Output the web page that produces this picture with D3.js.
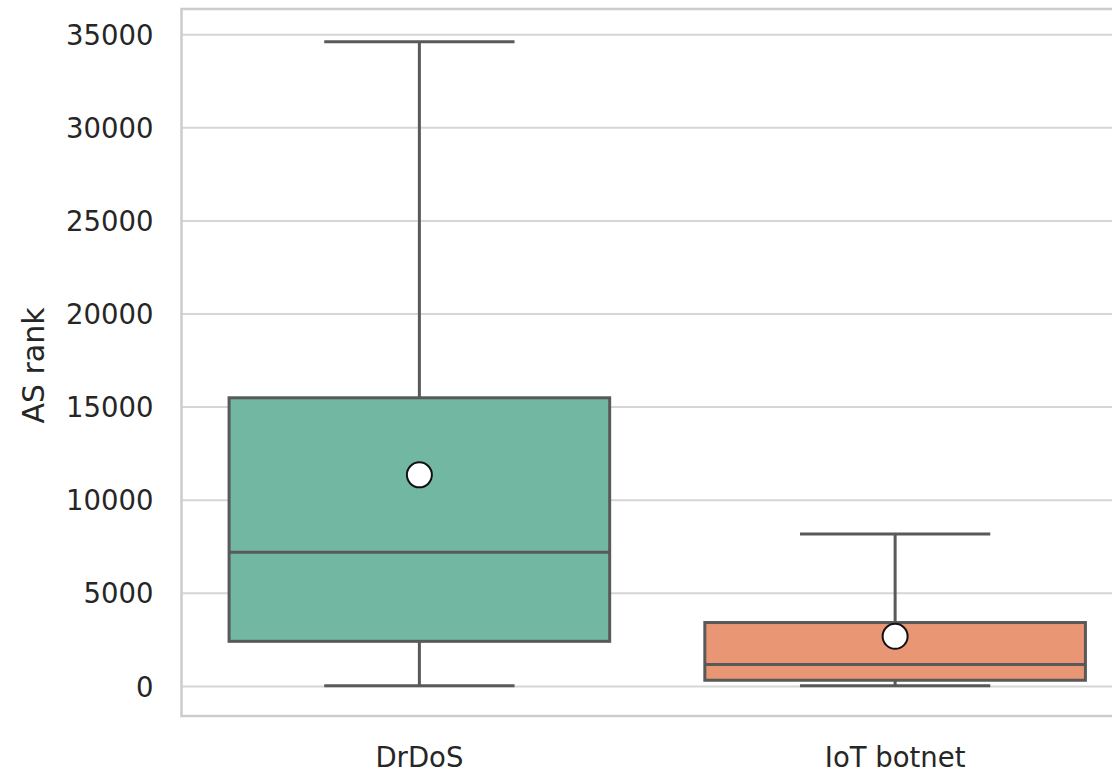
<!DOCTYPE html>
<html>
<head>
<meta charset="utf-8">
<script src="https://cdn.jsdelivr.net/npm/d3@7"></script>
<style>
  html, body { margin: 0; padding: 0; background: #ffffff; }
  svg { display: block; }
  text { font-family: "DejaVu Sans", sans-serif; fill: #262626; }
</style>
</head>
<body>
<svg id="chart" width="1112" height="773"></svg>
<script>
// AS rank distribution per attack source type
const categories = ["DrDoS", "IoT botnet"];
const whiskerLow  = [40, 30];
const q1          = [2420, 330];
const median      = [7200, 1170];
const q3          = [15500, 3430];
const whiskerHigh = [34620, 8180];
const means       = [11360, 2690];
const yTicks = [0, 5000, 10000, 15000, 20000, 25000, 30000, 35000];
const boxColors = ["#71b7a1", "#e99675"];

const svg = d3.select("#chart");
const W = 1112, H = 773;
const margin = { left: 181.5, top: 9, right: -21, bottom: 57 };
const plotW = W - margin.left - margin.right;
const plotH = H - margin.top - margin.bottom;

const x = d3.scaleBand().domain(categories).range([0, plotW]).paddingInner(0).paddingOuter(0);
const y = d3.scaleLinear().domain([-1590, 36380]).range([plotH, 0]);

const g = svg.append("g").attr("transform", `translate(${margin.left},${margin.top})`);

// horizontal grid
g.append("g")
  .selectAll("line")
  .data(yTicks)
  .join("line")
  .attr("x1", 0).attr("x2", plotW)
  .attr("y1", d => y(d)).attr("y2", d => y(d))
  .attr("stroke", "#d6d6d6")
  .attr("stroke-width", 2);

// y axis labels
const yAxis = d3.axisLeft(y).tickValues(yTicks).tickSize(0).tickPadding(28).tickFormat(d3.format("d"));
const ya = g.append("g").call(yAxis);
ya.select(".domain").remove();
ya.selectAll("text").style("font-size", "27.5px").attr("fill", "#2e2e2e").attr("dy", "0.35em");

// x axis labels
const xAxis = d3.axisBottom(x).tickSize(0).tickPadding(31);
const xa = g.append("g").attr("transform", `translate(0,${plotH})`).call(xAxis);
xa.select(".domain").remove();
xa.selectAll("text").style("font-size", "27.5px").attr("fill", "#2e2e2e").attr("dy", "0.71em");

// y axis title
svg.append("text")
  .attr("transform", `translate(44,${margin.top + plotH / 2 + 3}) rotate(-90)`)
  .attr("text-anchor", "middle")
  .style("font-size", "30px")
  .attr("fill", "#2e2e2e")
  .text("AS rank");

// boxes
const bw = x.bandwidth();
const boxW = bw * 0.8;
const capW = bw * 0.4;
const lineColor = "#595959";
const lw = 3;

categories.forEach((c, i) => {
  const cx = x(c) + bw / 2;
  const grp = g.append("g");
  // whiskers
  grp.append("line").attr("x1", cx).attr("x2", cx).attr("y1", y(q3[i])).attr("y2", y(whiskerHigh[i]))
    .attr("stroke", lineColor).attr("stroke-width", lw);
  grp.append("line").attr("x1", cx).attr("x2", cx).attr("y1", y(q1[i])).attr("y2", y(whiskerLow[i]))
    .attr("stroke", lineColor).attr("stroke-width", lw);
  // caps
  [whiskerHigh[i], whiskerLow[i]].forEach(v => {
    grp.append("line").attr("x1", cx - capW / 2).attr("x2", cx + capW / 2).attr("y1", y(v)).attr("y2", y(v))
      .attr("stroke", lineColor).attr("stroke-width", lw);
  });
  // box
  grp.append("rect")
    .attr("x", cx - boxW / 2).attr("width", boxW)
    .attr("y", y(q3[i])).attr("height", y(q1[i]) - y(q3[i]))
    .attr("fill", boxColors[i]).attr("stroke", lineColor).attr("stroke-width", lw);
  // median
  grp.append("line").attr("x1", cx - boxW / 2).attr("x2", cx + boxW / 2).attr("y1", y(median[i])).attr("y2", y(median[i]))
    .attr("stroke", lineColor).attr("stroke-width", lw);
  // mean marker
  grp.append("circle").attr("cx", cx).attr("cy", y(means[i])).attr("r", 12.5)
    .attr("fill", "#ffffff").attr("stroke", "#111111").attr("stroke-width", 2);
});

// spines
const spine = "#cccccc";
g.append("rect").attr("x", 0).attr("y", 0).attr("width", plotW).attr("height", plotH)
  .attr("fill", "none").attr("stroke", spine).attr("stroke-width", 2.5);
</script>
</body>
</html>
